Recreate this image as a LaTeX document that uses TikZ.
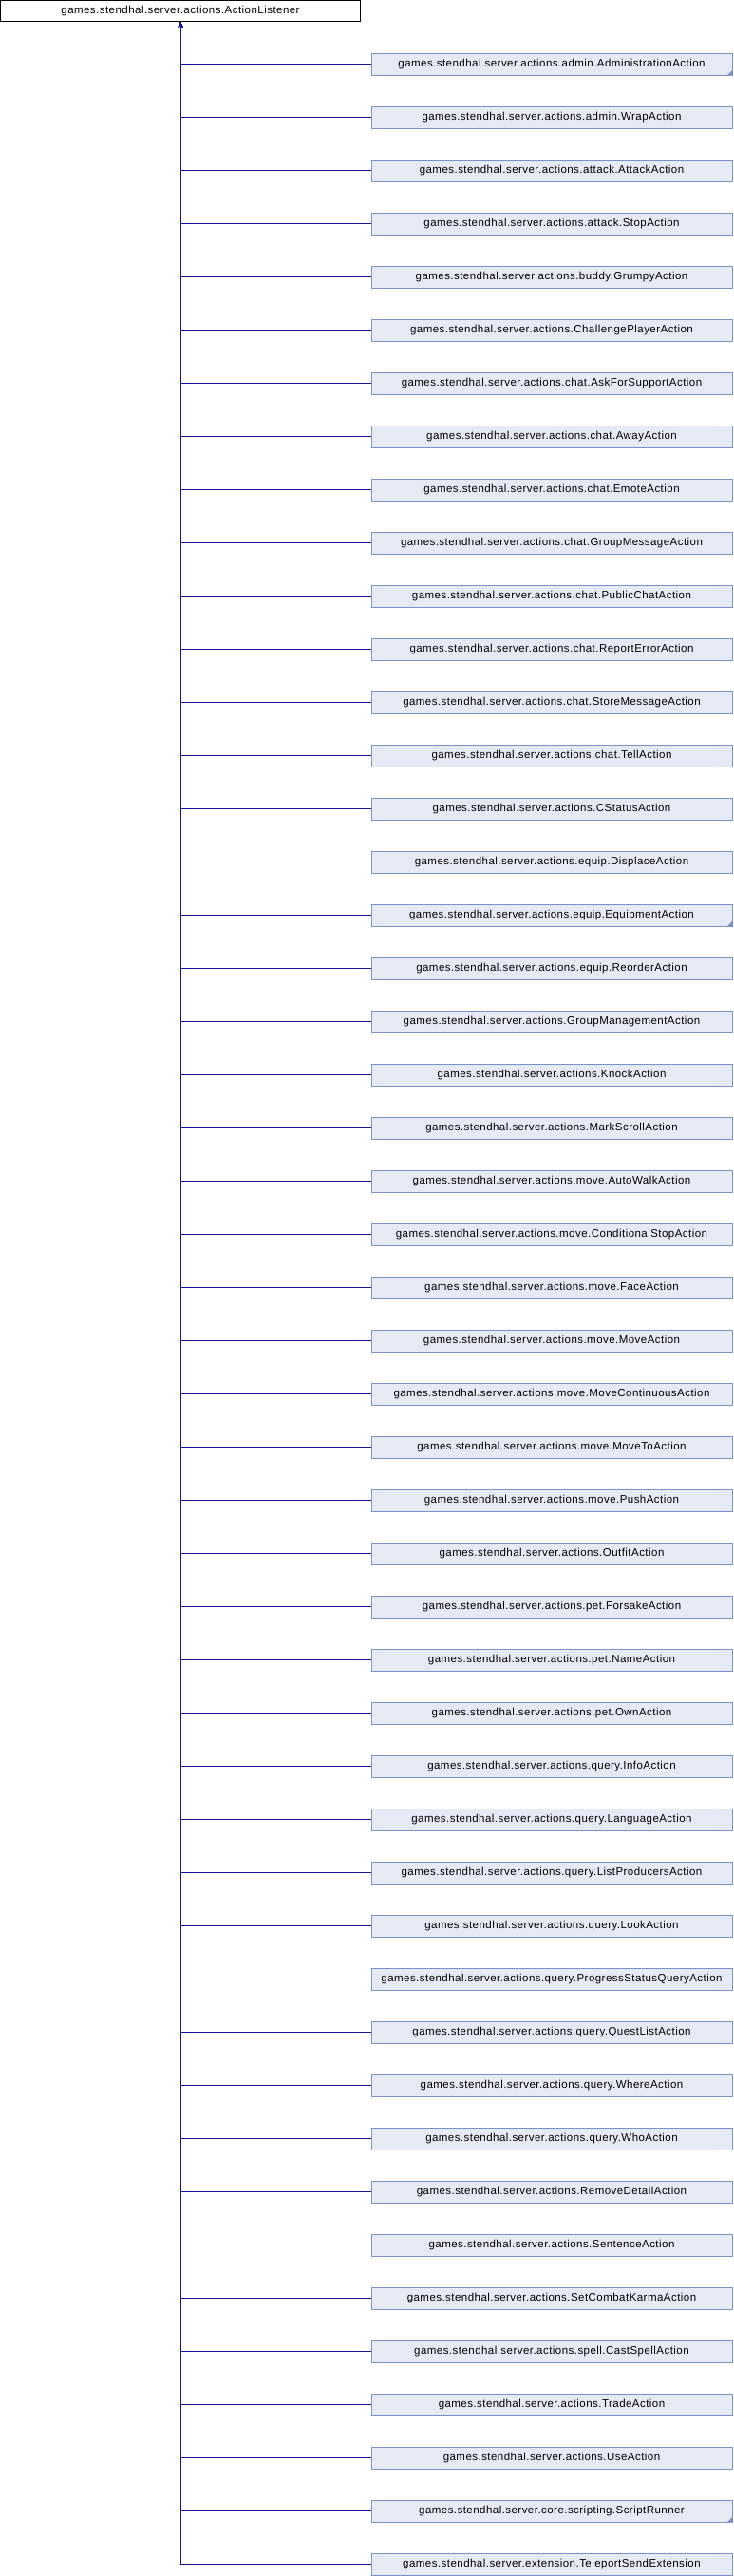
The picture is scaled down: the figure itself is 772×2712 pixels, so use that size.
\documentclass[tikz,border=0pt]{standalone}
\usepackage{fontspec}
\setmainfont{Liberation Sans}[LetterSpace=4.0]
\usetikzlibrary{arrows.meta}

\definecolor{boxfill}{HTML}{E6EAF5}
\definecolor{boxline}{HTML}{7C92CE}
\definecolor{midnight}{HTML}{12129A}

\begin{document}
\begin{tikzpicture}[x=1pt,y=-1pt,
  base/.style={draw=black, line width=1pt, fill=white, inner sep=0pt,
    minimum width=379pt, minimum height=22pt, font=\fontsize{11.5}{13}\selectfont},
  cls/.style={draw=boxline, line width=1pt, fill=boxfill, inner sep=0pt,
    minimum width=380pt, minimum height=23pt, font=\fontsize{11.5}{13}\selectfont},
  genline/.style={draw=midnight, line width=1pt, -{Stealth[length=6pt,width=5pt]}},
  more/.style={fill=boxline}]
\useasboundingbox (0,0) rectangle (772,2712);

\node[base] (AL) at (190,11.5) {games.stendhal.server.actions.ActionListener};

\node[cls] (Admin) at (581,67.5) {games.stendhal.server.actions.admin.AdministrationAction};
\node[cls] (Wrap) at (581,123.5) {games.stendhal.server.actions.admin.WrapAction};
\node[cls] (Attack) at (581,179.5) {games.stendhal.server.actions.attack.AttackAction};
\node[cls] (Stop) at (581,235.5) {games.stendhal.server.actions.attack.StopAction};
\node[cls] (Grumpy) at (581,291.5) {games.stendhal.server.actions.buddy.GrumpyAction};
\node[cls] (Challenge) at (581,347.5) {games.stendhal.server.actions.ChallengePlayerAction};
\node[cls] (AskSupport) at (581,403.5) {games.stendhal.server.actions.chat.AskForSupportAction};
\node[cls] (Away) at (581,459.5) {games.stendhal.server.actions.chat.AwayAction};
\node[cls] (Emote) at (581,515.5) {games.stendhal.server.actions.chat.EmoteAction};
\node[cls] (GroupMsg) at (581,571.5) {games.stendhal.server.actions.chat.GroupMessageAction};
\node[cls] (PublicChat) at (581,627.5) {games.stendhal.server.actions.chat.PublicChatAction};
\node[cls] (ReportErr) at (581,683.5) {games.stendhal.server.actions.chat.ReportErrorAction};
\node[cls] (StoreMsg) at (581,739.5) {games.stendhal.server.actions.chat.StoreMessageAction};
\node[cls] (Tell) at (581,795.5) {games.stendhal.server.actions.chat.TellAction};
\node[cls] (CStatus) at (581,851.5) {games.stendhal.server.actions.CStatusAction};
\node[cls] (Displace) at (581,907.5) {games.stendhal.server.actions.equip.DisplaceAction};
\node[cls] (Equip) at (581,963.5) {games.stendhal.server.actions.equip.EquipmentAction};
\node[cls] (Reorder) at (581,1019.5) {games.stendhal.server.actions.equip.ReorderAction};
\node[cls] (GroupMgmt) at (581,1075.5) {games.stendhal.server.actions.GroupManagementAction};
\node[cls] (Knock) at (581,1131.5) {games.stendhal.server.actions.KnockAction};
\node[cls] (MarkScroll) at (581,1187.5) {games.stendhal.server.actions.MarkScrollAction};
\node[cls] (AutoWalk) at (581,1243.5) {games.stendhal.server.actions.move.AutoWalkAction};
\node[cls] (CondStop) at (581,1299.5) {games.stendhal.server.actions.move.ConditionalStopAction};
\node[cls] (Face) at (581,1355.5) {games.stendhal.server.actions.move.FaceAction};
\node[cls] (Move) at (581,1411.5) {games.stendhal.server.actions.move.MoveAction};
\node[cls] (MoveCont) at (581,1467.5) {games.stendhal.server.actions.move.MoveContinuousAction};
\node[cls] (MoveTo) at (581,1523.5) {games.stendhal.server.actions.move.MoveToAction};
\node[cls] (Push) at (581,1579.5) {games.stendhal.server.actions.move.PushAction};
\node[cls] (Outfit) at (581,1635.5) {games.stendhal.server.actions.OutfitAction};
\node[cls] (Forsake) at (581,1691.5) {games.stendhal.server.actions.pet.ForsakeAction};
\node[cls] (Name) at (581,1747.5) {games.stendhal.server.actions.pet.NameAction};
\node[cls] (Own) at (581,1803.5) {games.stendhal.server.actions.pet.OwnAction};
\node[cls] (Info) at (581,1859.5) {games.stendhal.server.actions.query.InfoAction};
\node[cls] (Language) at (581,1915.5) {games.stendhal.server.actions.query.LanguageAction};
\node[cls] (ListProd) at (581,1971.5) {games.stendhal.server.actions.query.ListProducersAction};
\node[cls] (Look) at (581,2027.5) {games.stendhal.server.actions.query.LookAction};
\node[cls] (Progress) at (581,2083.5) {games.stendhal.server.actions.query.ProgressStatusQueryAction};
\node[cls] (QuestList) at (581,2139.5) {games.stendhal.server.actions.query.QuestListAction};
\node[cls] (Where) at (581,2195.5) {games.stendhal.server.actions.query.WhereAction};
\node[cls] (Who) at (581,2251.5) {games.stendhal.server.actions.query.WhoAction};
\node[cls] (RemoveDet) at (581,2307.5) {games.stendhal.server.actions.RemoveDetailAction};
\node[cls] (Sentence) at (581,2363.5) {games.stendhal.server.actions.SentenceAction};
\node[cls] (Karma) at (581,2419.5) {games.stendhal.server.actions.SetCombatKarmaAction};
\node[cls] (CastSpell) at (581,2475.5) {games.stendhal.server.actions.spell.CastSpellAction};
\node[cls] (Trade) at (581,2531.5) {games.stendhal.server.actions.TradeAction};
\node[cls] (Use) at (581,2587.5) {games.stendhal.server.actions.UseAction};
\node[cls] (Script) at (581,2643.5) {games.stendhal.server.core.scripting.ScriptRunner};
\node[cls] (Teleport) at (581,2699.5) {games.stendhal.server.extension.TeleportSendExtension};

% truncated subclasses
\fill[more] (Admin.south east) -- ++(-6,0) -- ++(6,-6) -- cycle;
\fill[more] (Equip.south east) -- ++(-6,0) -- ++(6,-6) -- cycle;
\fill[more] (Script.south east) -- ++(-6,0) -- ++(6,-6) -- cycle;

\draw[genline] (Admin.west) -| (AL.south);
\draw[genline] (Wrap.west) -| (AL.south);
\draw[genline] (Attack.west) -| (AL.south);
\draw[genline] (Stop.west) -| (AL.south);
\draw[genline] (Grumpy.west) -| (AL.south);
\draw[genline] (Challenge.west) -| (AL.south);
\draw[genline] (AskSupport.west) -| (AL.south);
\draw[genline] (Away.west) -| (AL.south);
\draw[genline] (Emote.west) -| (AL.south);
\draw[genline] (GroupMsg.west) -| (AL.south);
\draw[genline] (PublicChat.west) -| (AL.south);
\draw[genline] (ReportErr.west) -| (AL.south);
\draw[genline] (StoreMsg.west) -| (AL.south);
\draw[genline] (Tell.west) -| (AL.south);
\draw[genline] (CStatus.west) -| (AL.south);
\draw[genline] (Displace.west) -| (AL.south);
\draw[genline] (Equip.west) -| (AL.south);
\draw[genline] (Reorder.west) -| (AL.south);
\draw[genline] (GroupMgmt.west) -| (AL.south);
\draw[genline] (Knock.west) -| (AL.south);
\draw[genline] (MarkScroll.west) -| (AL.south);
\draw[genline] (AutoWalk.west) -| (AL.south);
\draw[genline] (CondStop.west) -| (AL.south);
\draw[genline] (Face.west) -| (AL.south);
\draw[genline] (Move.west) -| (AL.south);
\draw[genline] (MoveCont.west) -| (AL.south);
\draw[genline] (MoveTo.west) -| (AL.south);
\draw[genline] (Push.west) -| (AL.south);
\draw[genline] (Outfit.west) -| (AL.south);
\draw[genline] (Forsake.west) -| (AL.south);
\draw[genline] (Name.west) -| (AL.south);
\draw[genline] (Own.west) -| (AL.south);
\draw[genline] (Info.west) -| (AL.south);
\draw[genline] (Language.west) -| (AL.south);
\draw[genline] (ListProd.west) -| (AL.south);
\draw[genline] (Look.west) -| (AL.south);
\draw[genline] (Progress.west) -| (AL.south);
\draw[genline] (QuestList.west) -| (AL.south);
\draw[genline] (Where.west) -| (AL.south);
\draw[genline] (Who.west) -| (AL.south);
\draw[genline] (RemoveDet.west) -| (AL.south);
\draw[genline] (Sentence.west) -| (AL.south);
\draw[genline] (Karma.west) -| (AL.south);
\draw[genline] (CastSpell.west) -| (AL.south);
\draw[genline] (Trade.west) -| (AL.south);
\draw[genline] (Use.west) -| (AL.south);
\draw[genline] (Script.west) -| (AL.south);
\draw[genline] (Teleport.west) -| (AL.south);
\end{tikzpicture}
\end{document}
